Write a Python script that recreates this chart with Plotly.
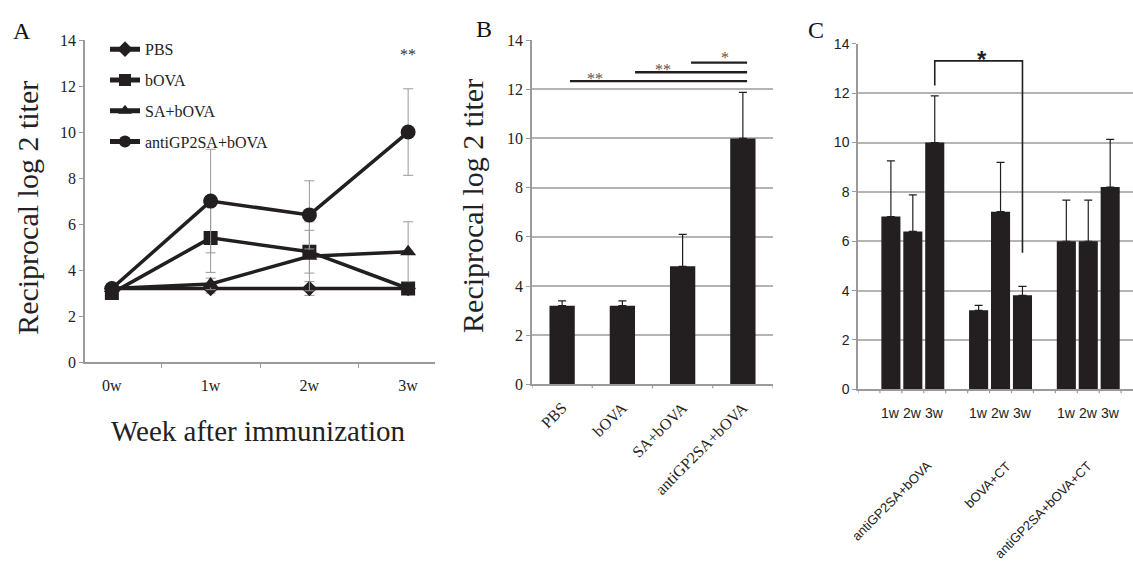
import plotly.graph_objects as go

W, H = 1133, 571

# ---------- Panel A data ----------
weeks = ["0w", "1w", "2w", "3w"]
a_series = ["PBS", "bOVA", "SA+bOVA", "antiGP2SA+bOVA"]
a_pbs = [3.2, 3.2, 3.2, 3.2]
a_pbs_err = [0.0, 0.2, 0.3, 0.0]
a_bova = [3.0, 5.4, 4.8, 3.2]
a_bova_err = [0.0, 1.5, 0.93, 0.0]
a_sa = [3.2, 3.4, 4.6, 4.8]
a_sa_err = [0.0, 0.25, 1.5, 1.3]
a_anti = [3.2, 7.0, 6.4, 10.0]
a_anti_err = [0.0, 2.25, 1.48, 1.88]
a_symbols = ["diamond", "square", "triangle-up", "circle"]
a_msizes = [12, 14, 14, 15]

# ---------- Panel B data ----------
b_groups = ["PBS", "bOVA", "SA+bOVA", "antiGP2SA+bOVA"]
b_vals = [3.2, 3.2, 4.8, 10.0]
b_err = [0.2, 0.2, 1.3, 1.87]
b_sig_from = [0.13, 1.21, 2.14]
b_sig_to = [3.07, 3.07, 3.07]
b_sig_y = [12.33, 12.69, 13.08]
b_star_x = [0.54, 1.67, 2.70]
b_star_y = [12.42, 12.8, 13.3]
b_sig_txt = ["**", "**", "*"]

# ---------- Panel C data ----------
c_groups = ["antiGP2SA+bOVA", "bOVA+CT", "antiGP2SA+bOVA+CT"]
c_weeks = ["1w", "2w", "3w"]
c_vals = [[7.0, 6.4, 10.0], [3.2, 7.2, 3.81], [6.0, 6.0, 8.2]]
c_err = [[2.26, 1.48, 1.89], [0.2, 2.0, 0.36], [1.67, 1.67, 1.93]]
c_bracket_y = [12.31, 13.31, 13.31, 5.53]

INK = "#231f20"
AXC = "#9a9a9a"
GRID = "#b4b4b4"
TXT = "#222222"
SERIF = "Liberation Serif, Times New Roman, serif"
SANS = "Liberation Sans, Arial, sans-serif"


def px_x(p):
    return p / W


def px_y(p):
    return 1 - p / H


fig = go.Figure()

# ----- Panel A -----
a_vals = [a_pbs, a_bova, a_sa, a_anti]
a_errs = [a_pbs_err, a_bova_err, a_sa_err, a_anti_err]
for name, vals, errs, sym, ms in zip(a_series, a_vals, a_errs, a_symbols, a_msizes):
    fig.add_trace(go.Scatter(
        x=weeks, y=vals, name=name, mode="lines+markers", legendgroup=name,
        line=dict(color=INK, width=3.5),
        marker=dict(symbol=sym, size=ms, color=INK),
        error_y=dict(type="data", array=errs, visible=True, color="#999999",
                     thickness=1, width=5),
        xaxis="x", yaxis="y", showlegend=True,
    ))

# ----- Panel B -----
fig.add_trace(go.Bar(
    x=list(range(len(b_groups))), y=b_vals, marker=dict(color=INK, line=dict(width=0)),
    width=0.42,
    error_y=dict(type="data", symmetric=False, array=b_err, arrayminus=[0] * 4,
                 color=INK, thickness=1.2, width=4),
    xaxis="x2", yaxis="y2", showlegend=False,
))
for f, t, yv in zip(b_sig_from, b_sig_to, b_sig_y):
    fig.add_trace(go.Scatter(
        x=[f, t], y=[yv, yv], mode="lines",
        line=dict(color=INK, width=2.3), xaxis="x2", yaxis="y2", showlegend=False,
        hoverinfo="skip",
    ))

# ----- Panel C -----
cx, cy, ce = [], [], []
for gi, g in enumerate(c_groups):
    for wi in range(3):
        cx.append(gi * 4 + 1 + wi)
        cy.append(c_vals[gi][wi])
        ce.append(c_err[gi][wi])
fig.add_trace(go.Bar(
    x=cx, y=cy, width=0.87, marker=dict(color=INK, line=dict(width=0)),
    error_y=dict(type="data", symmetric=False, array=ce, arrayminus=[0] * len(ce),
                 color=INK, thickness=1.2, width=4),
    xaxis="x3", yaxis="y3", showlegend=False,
))
fig.add_trace(go.Scatter(
    x=[3, 3, 7, 7], y=c_bracket_y, mode="lines",
    line=dict(color=INK, width=1.6), xaxis="x3", yaxis="y3", showlegend=False,
    hoverinfo="skip",
))

axis_common = dict(showline=True, linecolor=AXC, linewidth=1.5,
                   tickcolor=AXC, ticklen=4, zeroline=False)

fig.update_layout(
    width=W, height=H, margin=dict(l=0, r=0, t=0, b=0),
    paper_bgcolor="white", plot_bgcolor="rgba(0,0,0,0)",
    showlegend=True,
    legend=dict(x=px_x(105), y=px_y(25), xanchor="left", yanchor="top",
                font=dict(family=SERIF, size=16, color=TXT),
                bgcolor="rgba(0,0,0,0)", tracegroupgap=7,
                itemsizing="constant"),
    xaxis=dict(domain=[px_x(85), px_x(435)], type="category",
               tickfont=dict(family=SERIF, size=16, color=TXT),
               showgrid=False, ticklabelstandoff=8, tickson="boundaries",
               ticks="outside", anchor="y", **axis_common),
    yaxis=dict(domain=[px_y(365), px_y(33)], range=[0, 14], dtick=2,
               tickfont=dict(family=SERIF, size=16, color=TXT),
               showgrid=False, anchor="x", ticks="outside", **axis_common),
    xaxis2=dict(domain=[px_x(532), px_x(773)], range=[-0.5, 3.5],
                tickvals=list(range(4)), ticktext=b_groups, tickangle=-45,
                tickfont=dict(family=SERIF, size=16, color=TXT), ticks="",
                ticklabelstandoff=6,
                showgrid=False, anchor="y2", **axis_common),
    yaxis2=dict(domain=[px_y(388), px_y(33)], range=[0, 14], dtick=2,
                tickfont=dict(family=SERIF, size=16, color=TXT),
                showgrid=True, gridcolor=GRID, gridwidth=1.5, anchor="x2",
                ticks="outside", **axis_common),
    xaxis3=dict(domain=[px_x(858), 1.0], range=[-0.5, 12.04],
                tickvals=[], showgrid=False, anchor="y3", ticks="", **axis_common),
    yaxis3=dict(domain=[px_y(393), px_y(37)], range=[0, 14], dtick=2,
                tickfont=dict(family=SANS, size=14, color=TXT),
                showgrid=True, gridcolor=GRID, gridwidth=1.5, anchor="x3",
                ticks="outside", **axis_common),
)

ann = []
# panel letters
for letter, x, y in [("A", 22, 24), ("B", 484, 22), ("C", 816, 23)]:
    ann.append(dict(text=letter, x=px_x(x), y=px_y(y), xref="paper", yref="paper",
                    xanchor="center", yanchor="middle",
                    showarrow=False, font=dict(family=SERIF, size=24, color="#111")))
# axis titles
ann.append(dict(text="Week after immunization", x=px_x(258), y=px_y(436), xref="paper",
                yref="paper", xanchor="center", yanchor="middle", showarrow=False,
                font=dict(family=SERIF, size=29, color=TXT)))
for xt, yt in [(28, 206), (473, 204)]:
    ann.append(dict(text="Reciprocal log 2 titer", x=px_x(xt), y=px_y(yt), xref="paper",
                    yref="paper", xanchor="center", yanchor="middle", textangle=-90,
                    showarrow=False, font=dict(family=SERIF, size=30, color=TXT)))
# A star
ann.append(dict(text="**", x="3w", y=13.35, xref="x", yref="y", showarrow=False,
                xanchor="center", yanchor="middle",
                font=dict(family=SERIF, size=16, color="#333")))
# B stars
for xs, ys, t in zip(b_star_x, b_star_y, b_sig_txt):
    ann.append(dict(text=t, x=xs, y=ys, xref="x2", yref="y2", showarrow=False,
                    xanchor="center", yanchor="middle",
                    font=dict(family=SERIF, size=16, color="#555")))
# C star
ann.append(dict(text="<b>*</b>", x=5.15, y=13.37, xref="x3", yref="y3", showarrow=False,
                xanchor="center", yanchor="middle",
                font=dict(family=SANS, size=24, color=INK)))
# C week labels
for gi in range(3):
    for wi, wk in enumerate(c_weeks):
        ann.append(dict(text=wk, x=gi * 4 + 1 + wi, y=px_y(417), xref="x3", yref="paper",
                        xanchor="center", yanchor="middle",
                        showarrow=False, font=dict(family=SANS, size=14, color=TXT)))
# C group labels (rotated)
c_lab_x = [3.14, 6.75, 10.45]
for g, lx in zip(c_groups, c_lab_x):
    ann.append(dict(text=g, x=lx, y=px_y(461), xref="x3", yref="paper",
                    xanchor="right", yanchor="top", textangle=-45, showarrow=False,
                    font=dict(family=SANS, size=13, color=TXT)))
fig.update_layout(annotations=ann)

shapes = []
# C axis ticks at slot boundaries
for i in range(13):
    shapes.append(dict(type="line", xref="x3", yref="paper", x0=i - 0.5, x1=i - 0.5,
                       y0=px_y(393), y1=px_y(397), line=dict(color=AXC, width=1.2)))
# B axis ticks at category boundaries
for i in range(5):
    shapes.append(dict(type="line", xref="x2", yref="paper", x0=i - 0.5, x1=i - 0.5,
                       y0=px_y(388), y1=px_y(392), line=dict(color=AXC, width=1.2)))
fig.update_layout(shapes=shapes)

fig.write_html(
    "out.html",
    config={"displayModeBar": False},
    post_script="document.body.style.margin='0px';document.body.style.overflow='hidden';",
)
